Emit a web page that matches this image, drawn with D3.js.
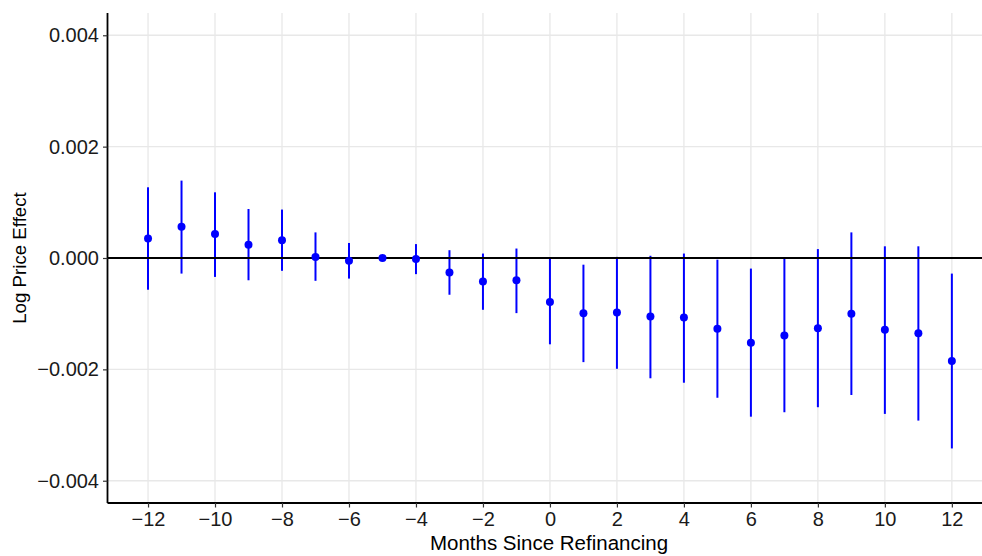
<!DOCTYPE html>
<html>
<head>
<meta charset="utf-8">
<script src="https://cdn.jsdelivr.net/npm/d3@7"></script>
<style>
  html, body { margin: 0; padding: 0; background: #ffffff; }
  svg { display: block; }
  text { font-family: "Liberation Sans", Arial, Helvetica, sans-serif; }
</style>
</head>
<body>
<svg id="chart" width="982" height="556"></svg>
<script>
// ---- data ----
const months = [-12, -11, -10, -9, -8, -7, -6, -5, -4, -3, -2, -1, 0, 1, 2, 3, 4, 5, 6, 7, 8, 9, 10, 11, 12];
const estimate = [0.00035, 0.00056, 0.00043, 0.00024, 0.00032, 0.00002, -0.00005, 0.0, -0.00002, -0.00026, -0.00042, -0.00040,
                  -0.00079, -0.00099, -0.00098, -0.00105, -0.00107, -0.00127, -0.00152, -0.00139, -0.00126, -0.00100, -0.00129, -0.00135, -0.00185];
const ciLow = [-0.00057, -0.00028, -0.00034, -0.00040, -0.00023, -0.00041, -0.00037, 0.0, -0.00029, -0.00066, -0.00093, -0.00099,
               -0.00155, -0.00187, -0.00199, -0.00216, -0.00224, -0.00251, -0.00285, -0.00277, -0.00268, -0.00246, -0.00280, -0.00292, -0.00342];
const ciHigh = [0.00127, 0.00139, 0.00118, 0.00088, 0.00087, 0.00046, 0.00027, 0.0, 0.00025, 0.00014, 0.00008, 0.00017,
                -0.00001, -0.00012, 0.00002, 0.00004, 0.00008, -0.00003, -0.00019, -0.00001, 0.00016, 0.00046, 0.00021, 0.00021, -0.00028];
const xTicks = [-12, -10, -8, -6, -4, -2, 0, 2, 4, 6, 8, 10, 12];
const yTicks = [-0.004, -0.002, 0.000, 0.002, 0.004];
const xTitle = "Months Since Refinancing";
const yTitle = "Log Price Effect";

// ---- layout ----
const panel = { left: 107.5, right: 982, top: 13, bottom: 503 };
const svg = d3.select("#chart");

const x = d3.scaleLinear()
  .domain([-13.21, 12.9])
  .range([panel.left, panel.right]);
const y = d3.scaleLinear()
  .domain([-0.0044, 0.0044])
  .range([panel.bottom, panel.top]);

const rows = months.map((m, i) => ({ m, est: estimate[i], lo: ciLow[i], hi: ciHigh[i] }));

// gridlines
const grid = svg.append("g");
grid.selectAll("line.gx").data(xTicks).join("line")
  .attr("x1", d => x(d)).attr("x2", d => x(d))
  .attr("y1", panel.top).attr("y2", panel.bottom)
  .attr("stroke", "#e8e8e8").attr("stroke-width", 1.3);
grid.selectAll("line.gy").data(yTicks).join("line")
  .attr("x1", panel.left).attr("x2", panel.right)
  .attr("y1", d => y(d)).attr("y2", d => y(d))
  .attr("stroke", "#e8e8e8").attr("stroke-width", 1.3);

// error bars
svg.append("g").selectAll("line").data(rows.filter(r => r.hi > r.lo)).join("line")
  .attr("x1", d => x(d.m)).attr("x2", d => x(d.m))
  .attr("y1", d => y(d.lo)).attr("y2", d => y(d.hi))
  .attr("stroke", "#0000ff").attr("stroke-width", 2);

// zero reference line
svg.append("line")
  .attr("x1", panel.left).attr("x2", panel.right)
  .attr("y1", y(0)).attr("y2", y(0))
  .attr("stroke", "#000000").attr("stroke-width", 1.8);

// points
svg.append("g").selectAll("circle").data(rows).join("circle")
  .attr("cx", d => x(d.m)).attr("cy", d => y(d.est))
  .attr("r", 4).attr("fill", "#0000ff");

// axes
const fmtY = d3.format(".3f");
const fmtX = d3.format("d");
const xAxis = svg.append("g")
  .attr("transform", `translate(0,${panel.bottom})`)
  .call(d3.axisBottom(x).tickValues(xTicks).tickFormat(fmtX).tickSize(4.5).tickPadding(4).tickSizeOuter(0));
const yAxis = svg.append("g")
  .attr("transform", `translate(${panel.left},0)`)
  .call(d3.axisLeft(y).tickValues(yTicks).tickFormat(fmtY).tickSize(4.5).tickPadding(4).tickSizeOuter(0));

[xAxis, yAxis].forEach(a => {
  a.select(".domain").attr("stroke", "#000").attr("stroke-width", 1.8);
  a.selectAll(".tick line").attr("stroke", "#333").attr("stroke-width", 1.2);
  a.selectAll(".tick text").attr("fill", "#1a1a1a").style("font-size", "20px")
   .style("font-family", "'Liberation Sans', Arial, Helvetica, sans-serif");
});
// make domain span full panel
xAxis.select(".domain").attr("d", `M${panel.left},0H${panel.right}`);
yAxis.select(".domain").attr("d", `M0,${panel.top}V${panel.bottom}`);

// axis titles
svg.append("text")
  .attr("x", 549).attr("y", 550)
  .attr("text-anchor", "middle")
  .attr("fill", "#000")
  .style("font-size", "20.5px")
  .text(xTitle);
svg.append("text")
  .attr("transform", `translate(26,258) rotate(-90)`)
  .attr("text-anchor", "middle")
  .attr("fill", "#000")
  .style("font-size", "18.7px")
  .text(yTitle);
</script>
</body>
</html>
